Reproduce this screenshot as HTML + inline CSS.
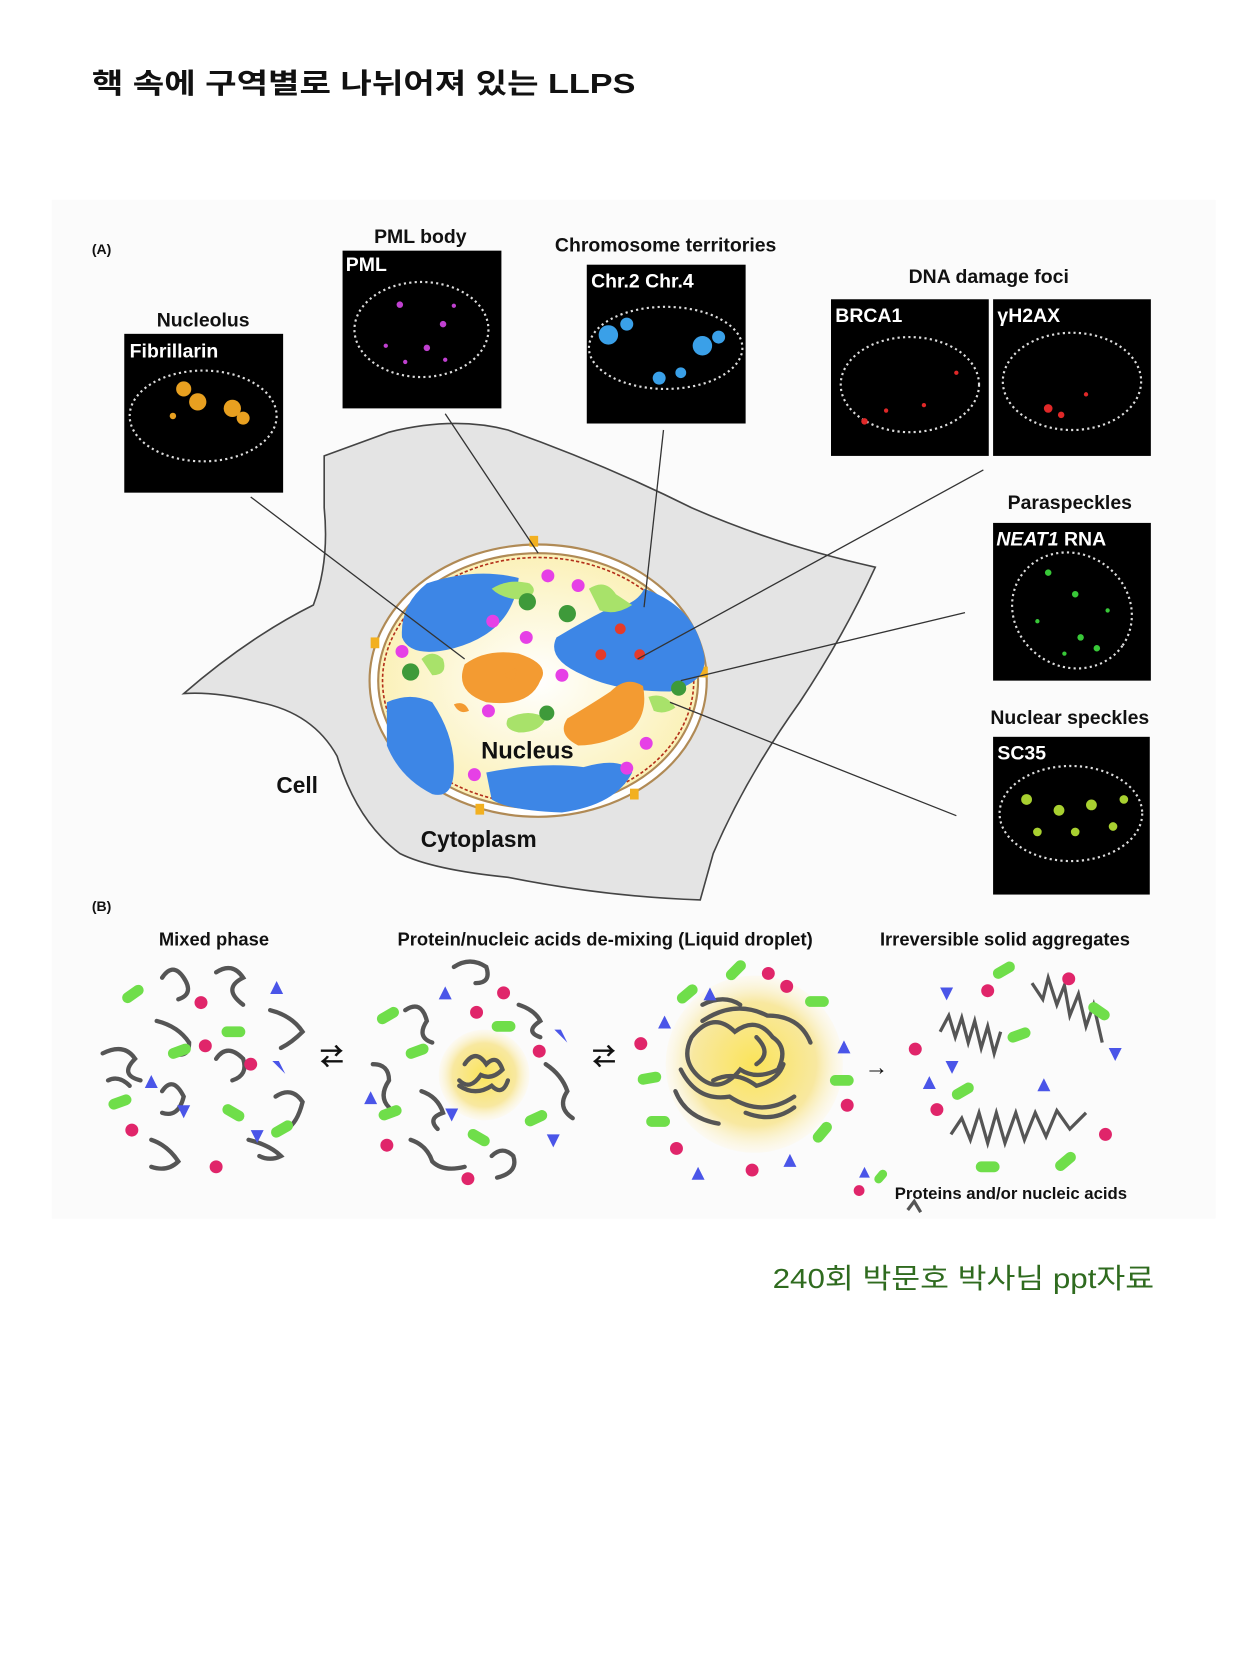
<!DOCTYPE html>
<html><head><meta charset="utf-8"><style>
html,body{margin:0;padding:0;background:#fff;width:1260px;height:1680px;overflow:hidden}
svg{display:block}
text{font-family:"Liberation Sans","Noto Sans CJK KR",sans-serif}
</style></head><body>
<svg width="1260" height="1680" viewBox="0 0 1166 1555" preserveAspectRatio="none" xmlns="http://www.w3.org/2000/svg">
<defs>
<radialGradient id="nuc" cx="50%" cy="50%" r="50%"><stop offset="0" stop-color="#ffffff"/><stop offset="1" stop-color="#fbf1b8"/></radialGradient>
<radialGradient id="drop" cx="50%" cy="50%" r="50%"><stop offset="0" stop-color="#fbe45a"/><stop offset="0.7" stop-color="#f8e8a0"/><stop offset="1" stop-color="#fdf6dc" stop-opacity="0.3"/></radialGradient>
</defs>
<rect width="1166" height="1555" fill="#fff"/>
<text x="85" y="86" font-size="26" font-weight="bold" fill="#111" textLength="503" lengthAdjust="spacingAndGlyphs">핵 속에 구역별로 나뉘어져 있는 LLPS</text>
<rect x="48" y="185" width="1077" height="943" fill="#fbfbfb"/>
<g font-weight="bold" fill="#111">
<text x="85" y="235" font-size="13">(A)</text>
<text x="85" y="843" font-size="13">(B)</text>
</g>
<!-- cell -->
<path d="M300,422 L360,400 Q420,385 470,398 Q560,430 640,470 Q720,505 810,525 Q780,590 740,650 Q690,720 660,790 L648,833 Q560,830 470,812 Q400,805 370,790 Q330,760 312,700 Q290,660 240,650 Q200,640 170,642 Q230,590 290,560 Q305,520 300,470 Z" fill="#e4e4e4" stroke="#444" stroke-width="1.5"/>
<!-- nucleus -->
<ellipse cx="498" cy="630" rx="156" ry="126" fill="#fff" stroke="#b08a55" stroke-width="2"/>
<ellipse cx="498" cy="630" rx="148" ry="118" fill="url(#nuc)" stroke="#b08a55" stroke-width="2"/>
<ellipse cx="498" cy="630" rx="144" ry="114" fill="none" stroke="#b3301a" stroke-width="1.5" stroke-dasharray="3 2"/>
<g fill="#f2b020"><rect x="490" y="496" width="8" height="10"/><rect x="343" y="590" width="8" height="10"/><rect x="647" y="617" width="8" height="10"/><rect x="440" y="744" width="8" height="10"/><rect x="583" y="730" width="8" height="10"/></g>
<g fill="#3d86e6">
<path d="M395,540 Q440,525 480,535 Q475,585 420,600 Q380,610 372,590 Q370,560 395,540Z"/>
<path d="M515,590 Q540,575 560,565 Q590,560 596,545 Q640,560 650,600 Q660,630 620,640 Q570,640 540,625 Q505,610 515,590Z"/>
<path d="M358,650 Q380,640 400,650 Q420,680 420,710 Q420,740 400,735 Q370,720 358,690Z"/>
<path d="M450,715 Q500,705 540,710 Q575,700 585,715 Q570,745 520,752 Q470,750 455,740Z"/>
</g>
<g fill="#f39b32">
<path d="M430,615 Q450,600 480,605 Q510,615 500,630 Q490,655 450,650 Q420,640 430,615Z"/>
<path d="M525,665 Q550,650 565,640 Q580,625 595,635 Q600,660 585,675 Q560,690 535,690 Q515,680 525,665Z"/>
<path d="M465,625 L478,618 L476,630Z"/>
<path d="M420,652 Q430,648 434,658 Q425,662 420,652Z"/>
</g>
<g fill="#a8e26a">
<path d="M455,545 Q470,535 490,540 Q500,548 485,555 Q465,555 455,545Z"/>
<path d="M545,545 Q560,535 570,550 L585,560 Q570,570 555,565Z"/>
<path d="M390,610 Q400,600 410,610 Q415,625 400,625Z"/>
<path d="M470,665 Q490,655 505,665 Q500,678 480,678 Q465,675 470,665Z"/>
<path d="M600,645 Q615,640 625,655 Q615,662 605,658Z"/>
</g>
<g fill="#3e9a3a"><circle cx="488" cy="557" r="8"/><circle cx="525" cy="568" r="8"/><circle cx="380" cy="622" r="8"/><circle cx="506" cy="660" r="7"/><circle cx="628" cy="637" r="7"/></g>
<g fill="#e640e6"><circle cx="507" cy="533" r="6"/><circle cx="535" cy="542" r="6"/><circle cx="456" cy="575" r="6"/><circle cx="487" cy="590" r="6"/><circle cx="372" cy="603" r="6"/><circle cx="520" cy="625" r="6"/><circle cx="439" cy="717" r="6"/><circle cx="598" cy="688" r="6"/><circle cx="580" cy="711" r="6"/><circle cx="452" cy="658" r="6"/></g>
<g fill="#e53b2a"><circle cx="574" cy="582" r="5"/><circle cx="556" cy="606" r="5"/><circle cx="592" cy="606" r="5"/></g>
<g stroke="#333" stroke-width="1.2" fill="none">
<line x1="232" y1="460" x2="430" y2="610"/><line x1="412" y1="383" x2="498" y2="512"/><line x1="614" y1="398" x2="596" y2="562"/>
<line x1="910" y1="435" x2="590" y2="610"/><line x1="893" y1="567" x2="630" y2="630"/><line x1="885" y1="755" x2="620" y2="650"/>
</g>
<g font-weight="bold" fill="#111">
<text x="488" y="702" font-size="22" text-anchor="middle">Nucleus</text>
<text x="275" y="734" font-size="21" text-anchor="middle">Cell</text>
<text x="443" y="784" font-size="21" text-anchor="middle">Cytoplasm</text>
</g>
<!-- micrographs -->
<g font-weight="bold" font-size="18" fill="#111" text-anchor="middle">
<text x="188" y="302">Nucleolus</text><text x="389" y="225">PML body</text><text x="616" y="233">Chromosome territories</text>
<text x="915" y="262">DNA damage foci</text><text x="990" y="471">Paraspeckles</text><text x="990" y="670">Nuclear speckles</text>
</g>
<g fill="#000">
<rect x="115" y="309" width="147" height="147"/><rect x="317" y="232" width="147" height="146"/><rect x="543" y="245" width="147" height="147"/>
<rect x="769" y="277" width="146" height="145"/><rect x="919" y="277" width="146" height="145"/><rect x="919" y="484" width="146" height="146"/><rect x="919" y="682" width="145" height="146"/>
</g>
<g fill="none" stroke="#ddd" stroke-width="2" stroke-dasharray="2 3">
<ellipse cx="188" cy="385" rx="68" ry="42"/><ellipse cx="390" cy="305" rx="62" ry="44"/><ellipse cx="616" cy="322" rx="71" ry="38"/>
<ellipse cx="842" cy="356" rx="64" ry="44"/><ellipse cx="992" cy="353" rx="64" ry="45"/><ellipse cx="992" cy="565" rx="57" ry="52" transform="rotate(35 992 565)"/><ellipse cx="991" cy="753" rx="66" ry="44"/>
</g>
<g fill="#e8a020"><circle cx="170" cy="360" r="7"/><circle cx="183" cy="372" r="8"/><circle cx="215" cy="378" r="8"/><circle cx="225" cy="387" r="6"/><circle cx="160" cy="385" r="3"/></g>
<g fill="#c040d0"><circle cx="370" cy="282" r="3"/><circle cx="410" cy="300" r="3"/><circle cx="395" cy="322" r="3"/><circle cx="357" cy="320" r="2"/><circle cx="420" cy="283" r="2"/><circle cx="375" cy="335" r="2"/><circle cx="412" cy="333" r="2"/></g>
<g fill="#3aa0e8"><circle cx="563" cy="310" r="9"/><circle cx="580" cy="300" r="6"/><circle cx="650" cy="320" r="9"/><circle cx="665" cy="312" r="6"/><circle cx="610" cy="350" r="6"/><circle cx="630" cy="345" r="5"/></g>
<g fill="#e02828"><circle cx="800" cy="390" r="3"/><circle cx="820" cy="380" r="2"/><circle cx="855" cy="375" r="2"/><circle cx="885" cy="345" r="2"/><circle cx="970" cy="378" r="4"/><circle cx="982" cy="384" r="3"/><circle cx="1005" cy="365" r="2"/></g>
<g fill="#38c838"><circle cx="970" cy="530" r="3"/><circle cx="995" cy="550" r="3"/><circle cx="960" cy="575" r="2"/><circle cx="1000" cy="590" r="3"/><circle cx="1025" cy="565" r="2"/><circle cx="985" cy="605" r="2"/><circle cx="1015" cy="600" r="3"/></g>
<g fill="#a8d030"><circle cx="950" cy="740" r="5"/><circle cx="980" cy="750" r="5"/><circle cx="1010" cy="745" r="5"/><circle cx="1040" cy="740" r="4"/><circle cx="960" cy="770" r="4"/><circle cx="995" cy="770" r="4"/><circle cx="1030" cy="765" r="4"/></g>
<g font-weight="bold" font-size="18" fill="#fff">
<text x="120" y="331">Fibrillarin</text><text x="320" y="251">PML</text><text x="547" y="266">Chr.2 Chr.4</text>
<text x="773" y="298">BRCA1</text><text x="923" y="298">γH2AX</text><text x="922" y="505"><tspan font-style="italic">NEAT1</tspan> RNA</text><text x="923" y="703">SC35</text>
</g>
<!-- B -->
<g font-weight="bold" font-size="17" fill="#111" text-anchor="middle">
<text x="198" y="875">Mixed phase</text><text x="560" y="875">Protein/nucleic acids de-mixing (Liquid droplet)</text><text x="930" y="875">Irreversible solid aggregates</text>
</g>
<circle cx="448" cy="995" r="42" fill="url(#drop)"/>
<circle cx="698" cy="985" r="82" fill="url(#drop)"/>
<g stroke="#555" stroke-width="4" fill="none" stroke-linecap="round">
<path d="M150,905 q10,-15 20,0 q10,15 -5,20"/><path d="M200,900 q15,-10 25,5 q-20,10 0,25"/><path d="M95,975 q20,-10 30,5 q-15,15 5,20"/><path d="M145,945 q20,5 30,20 q0,15 -15,10"/>
<path d="M250,935 q20,5 30,20 q-10,10 -20,15"/><path d="M200,980 q10,-15 25,0 q5,15 -10,20"/><path d="M150,1010 q10,-15 20,5 q-5,20 -20,15"/><path d="M140,1055 q15,5 25,20 q-10,10 -25,5"/>
<path d="M255,1015 q15,-10 25,5 q-5,20 -15,25"/><path d="M230,1055 q20,5 30,15 q-10,5 -20,0"/><path d="M100,1000 q10,-5 20,5"/>
<path d="M420,895 q15,-10 30,0 q5,15 -10,15"/><path d="M375,935 q15,-10 20,10 q-10,15 5,20"/><path d="M345,985 q15,0 15,15 q-10,15 0,25"/><path d="M480,930 q15,5 20,15 q-15,10 0,15"/><path d="M505,985 q15,10 20,25 q-10,15 5,25"/><path d="M380,1055 q15,5 20,20 q10,10 30,5"/><path d="M455,1070 q10,-10 20,0 q5,15 -15,20"/><path d="M390,1010 q15,5 20,20 q-15,5 -5,15"/>
<path d="M430,985 q10,-15 20,0 q10,-10 15,5 q-10,10 -20,5 q-10,15 -20,5"/><path d="M425,1005 q15,10 30,0 q10,10 15,-5"/>
<path d="M640,960 q20,-25 40,-5 q20,-15 35,5 q15,10 5,30 q-20,10 -35,0 q-20,25 -40,5 q-15,-15 -5,-35"/>
<path d="M650,945 q30,-20 60,-5 q30,0 40,25"/><path d="M630,990 q15,30 45,25 q30,20 60,0"/><path d="M660,1000 q20,-10 40,5 q20,-5 25,-20"/><path d="M650,930 q20,-10 35,0"/><path d="M700,960 q15,15 0,25"/><path d="M625,1010 q10,25 40,30"/><path d="M690,1030 q25,10 45,-5"/>
</g>
<g stroke="#555" stroke-width="3" fill="none">
<polyline points="870,955 878,940 884,960 890,942 896,965 902,945 908,970 914,950 920,975 926,955"/>
<polyline points="955,910 965,925 970,905 978,930 985,912 990,940 998,920 1005,950 1012,930 1020,965"/>
<polyline points="880,1050 890,1035 898,1055 906,1030 914,1058 922,1030 930,1058 940,1030 948,1055 958,1030 968,1052 978,1028 990,1045 1005,1030"/>
<polyline points="840,1120 846,1112 852,1122"/>
</g>
<g fill="#6fde4a">
<rect x="112" y="915" width="22" height="10" rx="5" transform="rotate(-35 123 920)"/><rect x="205" y="950" width="22" height="10" rx="5"/><rect x="155" y="968" width="22" height="10" rx="5" transform="rotate(-20 166 973)"/><rect x="100" y="1015" width="22" height="10" rx="5" transform="rotate(-20 111 1020)"/><rect x="205" y="1025" width="22" height="10" rx="5" transform="rotate(30 216 1030)"/><rect x="250" y="1040" width="22" height="10" rx="5" transform="rotate(-30 261 1045)"/>
<rect x="348" y="935" width="22" height="10" rx="5" transform="rotate(-30 359 940)"/><rect x="375" y="968" width="22" height="10" rx="5" transform="rotate(-20 386 973)"/><rect x="455" y="945" width="22" height="10" rx="5"/><rect x="350" y="1025" width="22" height="10" rx="5" transform="rotate(-20 361 1030)"/><rect x="432" y="1048" width="22" height="10" rx="5" transform="rotate(30 443 1053)"/><rect x="485" y="1030" width="22" height="10" rx="5" transform="rotate(-25 496 1035)"/>
<rect x="625" y="915" width="22" height="10" rx="5" transform="rotate(-40 636 920)"/><rect x="670" y="893" width="22" height="10" rx="5" transform="rotate(-45 681 898)"/><rect x="745" y="922" width="22" height="10" rx="5"/><rect x="590" y="993" width="22" height="10" rx="5" transform="rotate(-10 601 998)"/><rect x="598" y="1033" width="22" height="10" rx="5"/><rect x="768" y="995" width="22" height="10" rx="5"/><rect x="750" y="1043" width="22" height="10" rx="5" transform="rotate(-50 761 1048)"/>
<rect x="918" y="893" width="22" height="10" rx="5" transform="rotate(-30 929 898)"/><rect x="1006" y="931" width="22" height="10" rx="5" transform="rotate(35 1017 936)"/><rect x="932" y="953" width="22" height="10" rx="5" transform="rotate(-20 943 958)"/><rect x="880" y="1005" width="22" height="10" rx="5" transform="rotate(-30 891 1010)"/><rect x="903" y="1075" width="22" height="10" rx="5"/><rect x="975" y="1070" width="22" height="10" rx="5" transform="rotate(-40 986 1075)"/><rect x="808" y="1085" width="14" height="8" rx="4" transform="rotate(-50 815 1089)"/>
</g>
<g fill="#e0256a">
<circle cx="186" cy="928" r="6"/><circle cx="190" cy="968" r="6"/><circle cx="232" cy="985" r="6"/><circle cx="122" cy="1046" r="6"/><circle cx="200" cy="1080" r="6"/>
<circle cx="441" cy="937" r="6"/><circle cx="466" cy="919" r="6"/><circle cx="499" cy="973" r="6"/><circle cx="358" cy="1060" r="6"/><circle cx="433" cy="1091" r="6"/>
<circle cx="711" cy="901" r="6"/><circle cx="728" cy="913" r="6"/><circle cx="593" cy="966" r="6"/><circle cx="784" cy="1023" r="6"/><circle cx="626" cy="1063" r="6"/><circle cx="696" cy="1083" r="6"/>
<circle cx="914" cy="917" r="6"/><circle cx="989" cy="906" r="6"/><circle cx="847" cy="971" r="6"/><circle cx="867" cy="1027" r="6"/><circle cx="1023" cy="1050" r="6"/><circle cx="795" cy="1102" r="5"/>
</g>
<g fill="#4a55e8">
<polygon points="256,908 250,920 262,920"/><polygon points="140,995 134,1007 146,1007"/><polygon points="258,982 264,994 252,982"/><polygon points="170,1035 164,1023 176,1023"/><polygon points="238,1058 232,1046 244,1046"/>
<polygon points="412,913 406,925 418,925"/><polygon points="343,1010 337,1022 349,1022"/><polygon points="519,953 525,965 513,953"/><polygon points="418,1038 412,1026 424,1026"/><polygon points="512,1062 506,1050 518,1050"/>
<polygon points="657,914 651,926 663,926"/><polygon points="615,940 609,952 621,952"/><polygon points="781,963 775,975 787,975"/><polygon points="646,1080 640,1092 652,1092"/><polygon points="731,1068 725,1080 737,1080"/>
<polygon points="876,926 870,914 882,914"/><polygon points="881,994 875,982 887,982"/><polygon points="860,996 854,1008 866,1008"/><polygon points="966,998 960,1010 972,1010"/><polygon points="1032,982 1026,970 1038,970"/><polygon points="800,1080 795,1090 805,1090"/>
</g>
<g font-size="22" fill="#111" font-weight="bold">
<text x="296" y="986">⇄</text><text x="548" y="986">⇄</text><text x="800" y="995">→</text>
</g>
<text x="828" y="1110" font-size="15" font-weight="bold" fill="#111" textLength="215" lengthAdjust="spacingAndGlyphs">Proteins and/or nucleic acids</text>
<text x="715" y="1192" font-size="26" fill="#2f6b1f" textLength="353" lengthAdjust="spacingAndGlyphs">240회 박문호 박사님 ppt자료</text>
</svg>
</body></html>
